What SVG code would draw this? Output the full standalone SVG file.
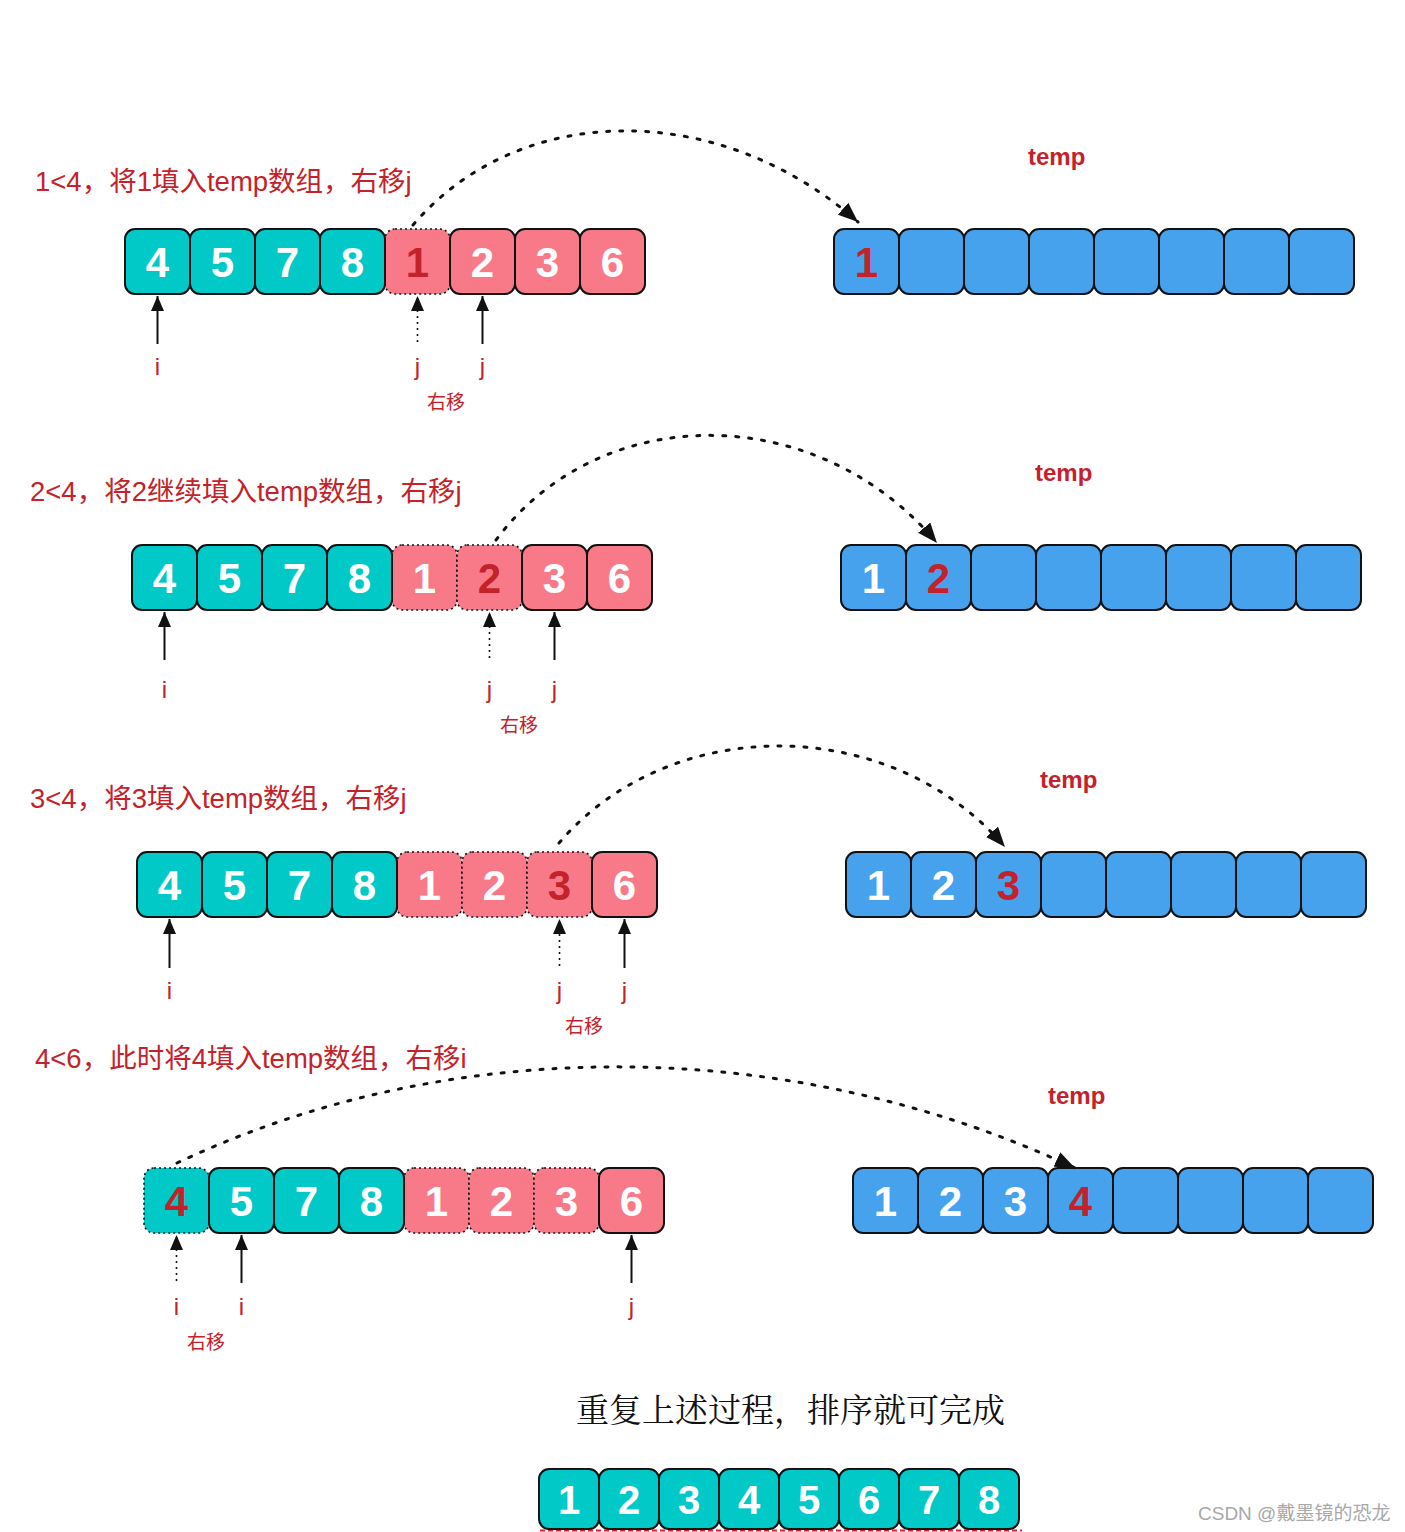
<svg xmlns="http://www.w3.org/2000/svg" width="1405" height="1532" viewBox="0 0 1405 1532">
<style>
.c{stroke:#111;stroke-width:2}
.d{stroke:#111;stroke-width:1.6;stroke-dasharray:2 3}
.t{fill:#00C9C8}
.p{fill:#F87A88}
.b{fill:#47A2ED}
.n{font-family:"Liberation Sans",Arial,sans-serif;font-weight:bold;font-size:42px;fill:#fff;text-anchor:middle}
.nb{font-size:40px}
.r{fill:#C4222A}
.ti{font-family:"Liberation Sans","Noto Sans CJK SC",sans-serif;font-size:27.5px;fill:#C4222A}
.tp{font-family:"Liberation Sans",Arial,sans-serif;font-weight:bold;font-size:24px;fill:#C4222A}
.lb{font-family:"Liberation Sans",Arial,sans-serif;font-size:24px;fill:#C4222A;text-anchor:middle}
.ym{font-family:"Noto Sans CJK SC",sans-serif;font-size:19px;fill:#C4222A;text-anchor:middle}
.va{stroke:#111;stroke-width:2;fill:none}
.vd{stroke:#111;stroke-width:1.6;stroke-dasharray:2 4;fill:none}
.cv{stroke:#111;stroke-width:3;stroke-dasharray:3 10;stroke-linecap:round;fill:none}
</style>
<defs>
<marker id="ah" markerUnits="userSpaceOnUse" viewBox="0 0 15 13" refX="15" refY="6.5" markerWidth="15" markerHeight="13" orient="auto"><path d="M0,0 L15,6.5 L0,13 z" fill="#111"/></marker>
<marker id="ahc" markerUnits="userSpaceOnUse" viewBox="0 0 20 16" refX="20" refY="8" markerWidth="20" markerHeight="16" orient="auto"><path d="M0,0 L20,8 L0,16 z" fill="#111"/></marker>
</defs>
<rect width="1405" height="1532" fill="#fff"/>

<!-- Row 1 -->
<g id="row1-title"><text class="ti" x="35" y="191">1&lt;4，将1填入temp数组，右移j</text></g>
<g id="row1-temp-label"><text class="tp" x="1028" y="165">temp</text></g>
<g id="row1-left">
<rect class="p d" x="385" y="229" width="65" height="65" rx="10"/>
<rect class="t c" x="125" y="229" width="65" height="65" rx="10"/>
<rect class="t c" x="190" y="229" width="65" height="65" rx="10"/>
<rect class="t c" x="255" y="229" width="65" height="65" rx="10"/>
<rect class="t c" x="320" y="229" width="65" height="65" rx="10"/>
<rect class="p c" x="450" y="229" width="65" height="65" rx="10"/>
<rect class="p c" x="515" y="229" width="65" height="65" rx="10"/>
<rect class="p c" x="580" y="229" width="65" height="65" rx="10"/>
<text class="n" x="157.5" y="277">4</text><text class="n" x="222.5" y="277">5</text><text class="n" x="287.5" y="277">7</text><text class="n" x="352.5" y="277">8</text>
<text class="n r" x="417.5" y="277">1</text><text class="n" x="482.5" y="277">2</text><text class="n" x="547.5" y="277">3</text><text class="n" x="612.5" y="277">6</text>
</g>
<g id="row1-temp">
<rect class="b c" x="834" y="229" width="65" height="65" rx="10"/>
<rect class="b c" x="899" y="229" width="65" height="65" rx="10"/>
<rect class="b c" x="964" y="229" width="65" height="65" rx="10"/>
<rect class="b c" x="1029" y="229" width="65" height="65" rx="10"/>
<rect class="b c" x="1094" y="229" width="65" height="65" rx="10"/>
<rect class="b c" x="1159" y="229" width="65" height="65" rx="10"/>
<rect class="b c" x="1224" y="229" width="65" height="65" rx="10"/>
<rect class="b c" x="1289" y="229" width="65" height="65" rx="10"/>
<text class="n r" x="866.5" y="277">1</text>
</g>
<g id="row1-labels">
<text class="lb" x="157.5" y="375">i</text><text class="lb" x="417.5" y="375">j</text><text class="lb" x="482.5" y="375">j</text>
<text class="ym" x="446" y="409">右移</text>
</g>

<!-- Row 2 -->
<g id="row2-title"><text class="ti" x="30" y="501">2&lt;4，将2继续填入temp数组，右移j</text></g>
<g id="row2-temp-label"><text class="tp" x="1035" y="481">temp</text></g>
<g id="row2-left">
<rect class="p d" x="392" y="545" width="65" height="65" rx="10"/>
<rect class="p d" x="457" y="545" width="65" height="65" rx="10"/>
<rect class="t c" x="132" y="545" width="65" height="65" rx="10"/>
<rect class="t c" x="197" y="545" width="65" height="65" rx="10"/>
<rect class="t c" x="262" y="545" width="65" height="65" rx="10"/>
<rect class="t c" x="327" y="545" width="65" height="65" rx="10"/>
<rect class="p c" x="522" y="545" width="65" height="65" rx="10"/>
<rect class="p c" x="587" y="545" width="65" height="65" rx="10"/>
<text class="n" x="164.5" y="593">4</text><text class="n" x="229.5" y="593">5</text><text class="n" x="294.5" y="593">7</text><text class="n" x="359.5" y="593">8</text>
<text class="n" x="424.5" y="593">1</text><text class="n r" x="489.5" y="593">2</text><text class="n" x="554.5" y="593">3</text><text class="n" x="619.5" y="593">6</text>
</g>
<g id="row2-temp">
<rect class="b c" x="841" y="545" width="65" height="65" rx="10"/>
<rect class="b c" x="906" y="545" width="65" height="65" rx="10"/>
<rect class="b c" x="971" y="545" width="65" height="65" rx="10"/>
<rect class="b c" x="1036" y="545" width="65" height="65" rx="10"/>
<rect class="b c" x="1101" y="545" width="65" height="65" rx="10"/>
<rect class="b c" x="1166" y="545" width="65" height="65" rx="10"/>
<rect class="b c" x="1231" y="545" width="65" height="65" rx="10"/>
<rect class="b c" x="1296" y="545" width="65" height="65" rx="10"/>
<text class="n" x="873.5" y="593">1</text><text class="n r" x="938.5" y="593">2</text>
</g>
<g id="row2-labels">
<text class="lb" x="164.5" y="698">i</text><text class="lb" x="489.5" y="698">j</text><text class="lb" x="554.5" y="698">j</text>
<text class="ym" x="519" y="732">右移</text>
</g>

<!-- Row 3 -->
<g id="row3-title"><text class="ti" x="30" y="808">3&lt;4，将3填入temp数组，右移j</text></g>
<g id="row3-temp-label"><text class="tp" x="1040" y="788">temp</text></g>
<g id="row3-left">
<rect class="p d" x="397" y="852" width="65" height="65" rx="10"/>
<rect class="p d" x="462" y="852" width="65" height="65" rx="10"/>
<rect class="p d" x="527" y="852" width="65" height="65" rx="10"/>
<rect class="t c" x="137" y="852" width="65" height="65" rx="10"/>
<rect class="t c" x="202" y="852" width="65" height="65" rx="10"/>
<rect class="t c" x="267" y="852" width="65" height="65" rx="10"/>
<rect class="t c" x="332" y="852" width="65" height="65" rx="10"/>
<rect class="p c" x="592" y="852" width="65" height="65" rx="10"/>
<text class="n" x="169.5" y="900">4</text><text class="n" x="234.5" y="900">5</text><text class="n" x="299.5" y="900">7</text><text class="n" x="364.5" y="900">8</text>
<text class="n" x="429.5" y="900">1</text><text class="n" x="494.5" y="900">2</text><text class="n r" x="559.5" y="900">3</text><text class="n" x="624.5" y="900">6</text>
</g>
<g id="row3-temp">
<rect class="b c" x="846" y="852" width="65" height="65" rx="10"/>
<rect class="b c" x="911" y="852" width="65" height="65" rx="10"/>
<rect class="b c" x="976" y="852" width="65" height="65" rx="10"/>
<rect class="b c" x="1041" y="852" width="65" height="65" rx="10"/>
<rect class="b c" x="1106" y="852" width="65" height="65" rx="10"/>
<rect class="b c" x="1171" y="852" width="65" height="65" rx="10"/>
<rect class="b c" x="1236" y="852" width="65" height="65" rx="10"/>
<rect class="b c" x="1301" y="852" width="65" height="65" rx="10"/>
<text class="n" x="878.5" y="900">1</text><text class="n" x="943.5" y="900">2</text><text class="n r" x="1008.5" y="900">3</text>
</g>
<g id="row3-labels">
<text class="lb" x="169.5" y="999">i</text><text class="lb" x="559.5" y="999">j</text><text class="lb" x="624.5" y="999">j</text>
<text class="ym" x="584" y="1033">右移</text>
</g>

<!-- Row 4 -->
<g id="row4-title"><text class="ti" x="35" y="1068">4&lt;6，此时将4填入temp数组，右移i</text></g>
<g id="row4-temp-label"><text class="tp" x="1048" y="1104">temp</text></g>
<g id="row4-left">
<rect class="t d" x="144" y="1168" width="65" height="65" rx="10"/>
<rect class="p d" x="404" y="1168" width="65" height="65" rx="10"/>
<rect class="p d" x="469" y="1168" width="65" height="65" rx="10"/>
<rect class="p d" x="534" y="1168" width="65" height="65" rx="10"/>
<rect class="t c" x="209" y="1168" width="65" height="65" rx="10"/>
<rect class="t c" x="274" y="1168" width="65" height="65" rx="10"/>
<rect class="t c" x="339" y="1168" width="65" height="65" rx="10"/>
<rect class="p c" x="599" y="1168" width="65" height="65" rx="10"/>
<text class="n r" x="176.5" y="1216">4</text><text class="n" x="241.5" y="1216">5</text><text class="n" x="306.5" y="1216">7</text><text class="n" x="371.5" y="1216">8</text>
<text class="n" x="436.5" y="1216">1</text><text class="n" x="501.5" y="1216">2</text><text class="n" x="566.5" y="1216">3</text><text class="n" x="631.5" y="1216">6</text>
</g>
<g id="row4-temp">
<rect class="b c" x="853" y="1168" width="65" height="65" rx="10"/>
<rect class="b c" x="918" y="1168" width="65" height="65" rx="10"/>
<rect class="b c" x="983" y="1168" width="65" height="65" rx="10"/>
<rect class="b c" x="1048" y="1168" width="65" height="65" rx="10"/>
<rect class="b c" x="1113" y="1168" width="65" height="65" rx="10"/>
<rect class="b c" x="1178" y="1168" width="65" height="65" rx="10"/>
<rect class="b c" x="1243" y="1168" width="65" height="65" rx="10"/>
<rect class="b c" x="1308" y="1168" width="65" height="65" rx="10"/>
<text class="n" x="885.5" y="1216">1</text><text class="n" x="950.5" y="1216">2</text><text class="n" x="1015.5" y="1216">3</text><text class="n r" x="1080.5" y="1216">4</text>
</g>
<g id="row4-labels">
<text class="lb" x="176.5" y="1315">i</text><text class="lb" x="241.5" y="1315">i</text><text class="lb" x="631.5" y="1315">j</text>
<text class="ym" x="206" y="1349">右移</text>
</g>

<!-- Result -->
<g id="result-title"><text x="576" y="1422" style="font-family:'Noto Serif CJK SC','Noto Sans CJK SC',serif;font-size:33px;fill:#111">重复上述过程，排序就可完成</text></g>
<g id="result">
<line x1="540" y1="1530.5" x2="1022" y2="1530.5" stroke="#E0202A" stroke-width="2" stroke-dasharray="5 3"/>
<rect class="t c" x="539" y="1469" width="60" height="60" rx="10"/>
<rect class="t c" x="599" y="1469" width="60" height="60" rx="10"/>
<rect class="t c" x="659" y="1469" width="60" height="60" rx="10"/>
<rect class="t c" x="719" y="1469" width="60" height="60" rx="10"/>
<rect class="t c" x="779" y="1469" width="60" height="60" rx="10"/>
<rect class="t c" x="839" y="1469" width="60" height="60" rx="10"/>
<rect class="t c" x="899" y="1469" width="60" height="60" rx="10"/>
<rect class="t c" x="959" y="1469" width="60" height="60" rx="10"/>
<text class="n nb" x="569" y="1514">1</text><text class="n nb" x="629" y="1514">2</text><text class="n nb" x="689" y="1514">3</text><text class="n nb" x="749" y="1514">4</text>
<text class="n nb" x="809" y="1514">5</text><text class="n nb" x="869" y="1514">6</text><text class="n nb" x="929" y="1514">7</text><text class="n nb" x="989" y="1514">8</text>
</g>
<g id="watermark"><text x="1198" y="1520" style="font-family:'Liberation Sans','Noto Sans CJK SC',sans-serif;font-size:19px;fill:#A8A8A8">CSDN @戴墨镜的恐龙</text></g>

<!-- Connectors -->
<g id="connectors">
<path class="cv" d="M413,225 C520,100 720,100 858,222" marker-end="url(#ahc)"/>
<path class="cv" d="M496,540 C600,400 817,400 937,543" marker-end="url(#ahc)"/>
<path class="cv" d="M559,843 C670,713 890,713 1005,847" marker-end="url(#ahc)"/>
<path class="cv" d="M177,1163 C450,1034 787,1034 1075,1168" marker-end="url(#ahc)"/>

<line class="va" x1="157.5" y1="344" x2="157.5" y2="296" marker-end="url(#ah)"/>
<line class="vd" x1="417.5" y1="342" x2="417.5" y2="296" marker-end="url(#ah)"/>
<line class="va" x1="482.5" y1="344" x2="482.5" y2="296" marker-end="url(#ah)"/>

<line class="va" x1="164.5" y1="660" x2="164.5" y2="612" marker-end="url(#ah)"/>
<line class="vd" x1="489.5" y1="658" x2="489.5" y2="612" marker-end="url(#ah)"/>
<line class="va" x1="554.5" y1="660" x2="554.5" y2="612" marker-end="url(#ah)"/>

<line class="va" x1="169.5" y1="968" x2="169.5" y2="919" marker-end="url(#ah)"/>
<line class="vd" x1="559.5" y1="966" x2="559.5" y2="919" marker-end="url(#ah)"/>
<line class="va" x1="624.5" y1="968" x2="624.5" y2="919" marker-end="url(#ah)"/>

<line class="vd" x1="176.5" y1="1281" x2="176.5" y2="1235" marker-end="url(#ah)"/>
<line class="va" x1="241.5" y1="1283" x2="241.5" y2="1235" marker-end="url(#ah)"/>
<line class="va" x1="631.5" y1="1283" x2="631.5" y2="1235" marker-end="url(#ah)"/>
</g>
</svg>
